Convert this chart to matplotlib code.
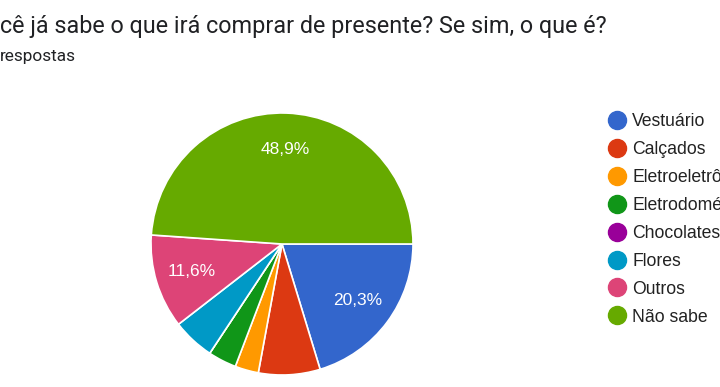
import matplotlib
matplotlib.use("Agg")
import matplotlib.pyplot as plt
from matplotlib.lines import Line2D

# dados (percentual de respostas)
categorias = ["Vestuário", "Calçados", "Eletroeletrônicos", "Eletrodomésticos",
              "Chocolates", "Flores", "Outros", "Não sabe"]
percentuais = [20.3, 7.6, 2.9, 3.5, 0.0, 5.2, 11.6, 48.9]
cores = ["#3366cc", "#dc3912", "#ff9900", "#109618",
         "#990099", "#0099c6", "#dd4477", "#66aa00"]

titulo = "cê já sabe o que irá comprar de presente? Se sim, o que é?"
subtitulo = "respostas"

W, H = 720, 387
fig = plt.figure(figsize=(W / 100, H / 100), dpi=100)
fig.patch.set_facecolor("white")

cx, cy, r = 282, 244, 131
ax = fig.add_axes([(cx - r) / W, (H - cy - r) / H, 2 * r / W, 2 * r / H])


def rotulo(p):
    if p < 10:
        return ""
    return ("%.1f%%" % p).replace(".", ",")


wedges, texts, autotexts = ax.pie(
    percentuais, colors=cores, startangle=0, counterclock=False,
    radius=1, autopct=rotulo, pctdistance=0.72,
    wedgeprops=dict(edgecolor="white", linewidth=1.2),
    textprops=dict(color="white", fontsize=12.5, family="Liberation Sans"))
ax.set_xlim(-1, 1)
ax.set_ylim(-1, 1)
ax.set_aspect("equal")
ax.axis("off")

fig.text(0, 1 - 27 / H, titulo, fontsize=16.8, family="Roboto",
         color="#202124", va="center", ha="left")
fig.text(0, 1 - 57 / H, subtitulo, fontsize=12.4, family="Roboto",
         color="#202124", va="center", ha="left")

handles = [Line2D([], [], marker="o", linestyle="none", markersize=13,
                  markerfacecolor=c, markeredgecolor=c) for c in cores]
fig.legend(handles, categorias, loc="upper left",
           bbox_to_anchor=(608 / W, 1 - 113 / H), frameon=False,
           prop=dict(family="Liberation Sans", size=12.7),
           labelcolor="#222222", handlelength=1.0, handletextpad=0.38,
           labelspacing=0.62, borderaxespad=0, borderpad=0)

fig.savefig("out.png", dpi=100)
